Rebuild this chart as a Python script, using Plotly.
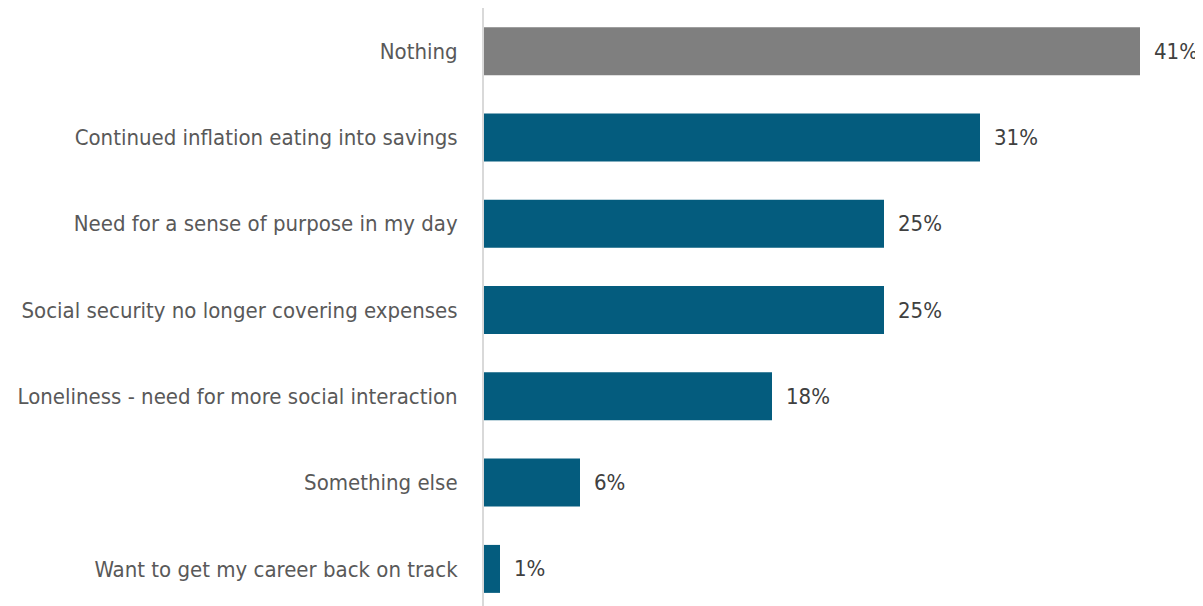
import plotly.graph_objects as go

categories = [
    "Nothing",
    "Continued inflation eating into savings",
    "Need for a sense of purpose in my day",
    "Social security no longer covering expenses",
    "Loneliness - need for more social interaction",
    "Something else",
    "Want to get my career back on track",
]
values = [41, 31, 25, 25, 18, 6, 1]
value_labels = ["41%", "31%", "25%", "25%", "18%", "6%", "1%"]
bar_colors = ["#7f7f7f", "#045c7e", "#045c7e", "#045c7e", "#045c7e", "#045c7e", "#045c7e"]

FONT = "DejaVu Sans Condensed, Liberation Sans Narrow, Arial Narrow, sans-serif"
FS = 22

fig = go.Figure(
    go.Bar(
        x=values,
        y=categories,
        orientation="h",
        marker=dict(color=bar_colors, line=dict(width=0)),
        width=0.556,
        hoverinfo="skip",
    )
)

for c, v, t in zip(categories, values, value_labels):
    fig.add_annotation(
        x=v, y=c, text=t, showarrow=False, xanchor="left", yanchor="middle",
        xshift=12, font=dict(family=FONT, size=FS, color="#404040"),
    )

n = len(categories)
# page body has an 8px margin, so the figure is offset by 8px
fig.update_layout(
    width=1195,
    height=598,
    margin=dict(l=476, r=0, t=0, b=0, autoexpand=False),
    paper_bgcolor="white",
    plot_bgcolor="white",
    showlegend=False,
    font=dict(family=FONT, size=FS, color="#595959"),
    xaxis=dict(range=[0, 719 / 16], visible=False, fixedrange=True, automargin=False),
    yaxis=dict(
        type="category",
        categoryorder="array",
        categoryarray=categories,
        range=[n - 1 + 0.43, -0.5],
        showline=True,
        linecolor="#d9d9d9",
        linewidth=2,
        showgrid=False,
        ticks="",
        ticklabelstandoff=20,
        tickfont=dict(family=FONT, size=FS, color="#595959"),
        fixedrange=True,
        automargin=False,
    ),
)

fig.write_html("out.html")
